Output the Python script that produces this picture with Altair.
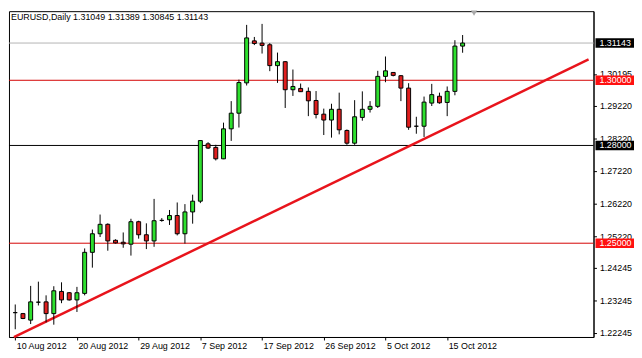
import altair as alt
import pandas as pd

# ---- data (EURUSD daily candles, bar index incl. Sunday bars) ----
opens = [1.2287, 1.2284, 1.2264, 1.2319, 1.2320, 1.2284, 1.2352, 1.2348, 1.2326, 1.2346,
         1.2472, 1.2529, 1.2558, 1.2509, 1.2503, 1.2497, 1.2566, 1.2526, 1.2507, 1.2570,
         1.2572, 1.2585, 1.2529, 1.2596, 1.2629, 1.2805, 1.2794, 1.2759, 1.2851, 1.2899,
         1.2992, 1.3121, 1.3114, 1.3109, 1.3045, 1.3057, 1.2971, 1.2975, 1.2966, 1.2938,
         1.2896, 1.2878, 1.2911, 1.2846, 1.2807, 1.2886, 1.2911, 1.2920, 1.3012, 1.3024,
         1.3014, 1.2976, 1.2859, 1.2859, 1.2930, 1.2951, 1.2932, 1.2966, 1.31049]
highs = [1.2312, 1.2286, 1.2369, 1.2382, 1.2340, 1.2368, 1.2380, 1.2350, 1.2366, 1.2484,
         1.2542, 1.2588, 1.2561, 1.2512, 1.2533, 1.2575, 1.2569, 1.2561, 1.2636, 1.2577,
         1.2602, 1.2625, 1.2620, 1.2649, 1.2815, 1.2810, 1.2802, 1.2870, 1.2936, 1.3002,
         1.3170, 1.3133, 1.3173, 1.3114, 1.3085, 1.3059, 1.3033, 1.2990, 1.2978, 1.2967,
         1.2913, 1.2928, 1.2962, 1.2849, 1.2939, 1.2966, 1.2936, 1.3029, 1.3073, 1.3025,
         1.3016, 1.2991, 1.2888, 1.2950, 1.2989, 1.2962, 1.2981, 1.3123, 1.31389]
lows = [1.2236, 1.2267, 1.2252, 1.2309, 1.2257, 1.2250, 1.2316, 1.2324, 1.2289, 1.2340,
        1.2425, 1.2519, 1.2477, 1.2499, 1.2486, 1.2462, 1.2514, 1.2482, 1.2489, 1.2566,
        1.2556, 1.2524, 1.2499, 1.2560, 1.2623, 1.2789, 1.2754, 1.2758, 1.2814, 1.2855,
        1.2984, 1.3108, 1.3082, 1.3028, 1.2992, 1.2915, 1.2952, 1.2964, 1.2890, 1.2883,
        1.2832, 1.2824, 1.2834, 1.2802, 1.2802, 1.2876, 1.2901, 1.2915, 1.2994, 1.3012,
        1.2936, 1.2848, 1.2836, 1.2826, 1.2921, 1.2928, 1.2890, 1.2954, 1.30845]
closes = [1.2287, 1.2269, 1.2320, 1.2319, 1.2284, 1.2354, 1.2326, 1.2326, 1.2348, 1.2472,
          1.2529, 1.2558, 1.2507, 1.2501, 1.2498, 1.2566, 1.2526, 1.2507, 1.2569, 1.2570,
          1.2585, 1.2529, 1.2596, 1.2629, 1.2815, 1.2792, 1.2759, 1.2851, 1.2899, 1.2993,
          1.3130, 1.3113, 1.3107, 1.3045, 1.3057, 1.2971, 1.2981, 1.2965, 1.2937, 1.2895,
          1.2878, 1.2911, 1.2848, 1.2807, 1.2888, 1.2911, 1.2920, 1.3012, 1.3029, 1.3015,
          1.2976, 1.2856, 1.2859, 1.2933, 1.2956, 1.2931, 1.2966, 1.3105, 1.31143]

tick_idx = [0, 8, 16, 24, 32, 40, 48, 56]
tick_labels = ["10 Aug 2012", "20 Aug 2012", "29 Aug 2012", "7 Sep 2012",
               "17 Sep 2012", "26 Sep 2012", "5 Oct 2012", "15 Oct 2012"]
y_ticks = [1.30195, 1.29220, 1.28220, 1.27220, 1.26220, 1.25220, 1.24245, 1.23245, 1.22245]

levels = [1.31143, 1.30000, 1.28000, 1.25000]
level_line_colors = ["#b4b4b4", "#d40000", "#000000", "#d40000"]
level_box_colors = ["#000000", "#ff1010", "#000000", "#ff1010"]

trend_x = [-0.17, 74.33]
trend_y = [1.2212, 1.3064]

title_text = "EURUSD,Daily  1.31049 1.31389 1.30845 1.31143"

FONT = "Liberation Sans"

# ---- tables ----
candles = pd.DataFrame({"i": list(range(len(opens))), "open": opens, "high": highs,
                        "low": lows, "close": closes})
candles["dir"] = ["up" if c > o else ("down" if c < o else "flat") for o, c in zip(opens, closes)]
lv = pd.DataFrame({"price": levels, "line": level_line_colors, "box": level_box_colors})
tr = pd.DataFrame({"i": trend_x, "p": trend_y})

x_scale = alt.Scale(domain=[-0.17, 74.33], nice=False, zero=False)
y_scale = alt.Scale(domain=[1.22122, 1.32121], nice=False, zero=False)

label_list = "[" + ",".join("'" + s + "'" for s in tick_labels) + "]"
x_axis = alt.Axis(values=tick_idx, labelExpr=label_list + "[round(datum.value/8)]",
                  title=None, grid=False, tickSize=3, labelPadding=2, labelAlign="left",
                  labelOffset=1, labelFont=FONT, labelFontSize=9, labelColor="black",
                  tickColor="black", domainColor="black", labelOverlap=False,
                  labelFlush=False, labelBound=False)
y_axis = alt.Axis(orient="right", values=y_ticks, format=".5f", title=None, grid=False,
                  tickSize=3, labelPadding=3, labelFont=FONT, labelFontSize=9,
                  labelColor="black", tickColor="black", domainColor="black",
                  labelOverlap=False, labelFlush=False, labelBound=False)


def X(f):
    return alt.X(f, type="quantitative", scale=x_scale, axis=x_axis)


def Y(f):
    return alt.Y(f, type="quantitative", scale=y_scale, axis=y_axis)


level_lines = alt.Chart(lv).mark_rule(strokeWidth=1).encode(
    y=Y("price"), color=alt.Color("line:N", scale=None))

trend = alt.Chart(tr).mark_line(color="#e8141c", strokeWidth=2.5).encode(
    x=X("i"), y=Y("p"))

wicks = alt.Chart(candles).mark_rule(color="black", strokeWidth=1).encode(
    x=X("i"), y=Y("low"), y2="high")

bodies = alt.Chart(candles).mark_bar(width=4, stroke="black", strokeWidth=1).encode(
    x=X("i"), y=Y("open"), y2="close",
    fill=alt.Fill("dir:N", scale=alt.Scale(domain=["up", "down", "flat"],
                                           range=["#2ee02e", "#e01e1e", "#000000"]),
                  legend=None))

boxes = alt.Chart(lv).transform_calculate(
    top="datum.price + 0.00145", bot="datum.price - 0.00145"
).mark_rect().encode(
    x=alt.value(594), x2=alt.value(633), y=Y("top:Q"), y2="bot:Q",
    color=alt.Color("box:N", scale=None))

box_text = alt.Chart(lv).mark_text(align="left", baseline="middle", color="white",
                                   font=FONT, fontSize=9).encode(
    x=alt.value(598), y=Y("price"), text=alt.Text("price:Q", format=".5f"))

title = alt.Chart(pd.DataFrame({"t": [title_text]})).mark_text(
    align="left", baseline="middle", font=FONT, fontSize=9, color="black").encode(
    x=alt.value(2), y=alt.value(6), text="t:N")

shift_marker = alt.Chart(pd.DataFrame({"t": [0]})).mark_point(
    shape="triangle-down", filled=True, color="#a8a8a8", size=40, opacity=1).encode(
    x=alt.value(471), y=alt.value(2))

chart = alt.layer(level_lines, trend, wicks, bodies, boxes, box_text, title, shift_marker
                  ).properties(width=592, height=330, padding=0, background="white"
                  ).configure_view(stroke="black", strokeWidth=1)

chart.save("out.html", embed_options={"renderer": "svg", "actions": False})
